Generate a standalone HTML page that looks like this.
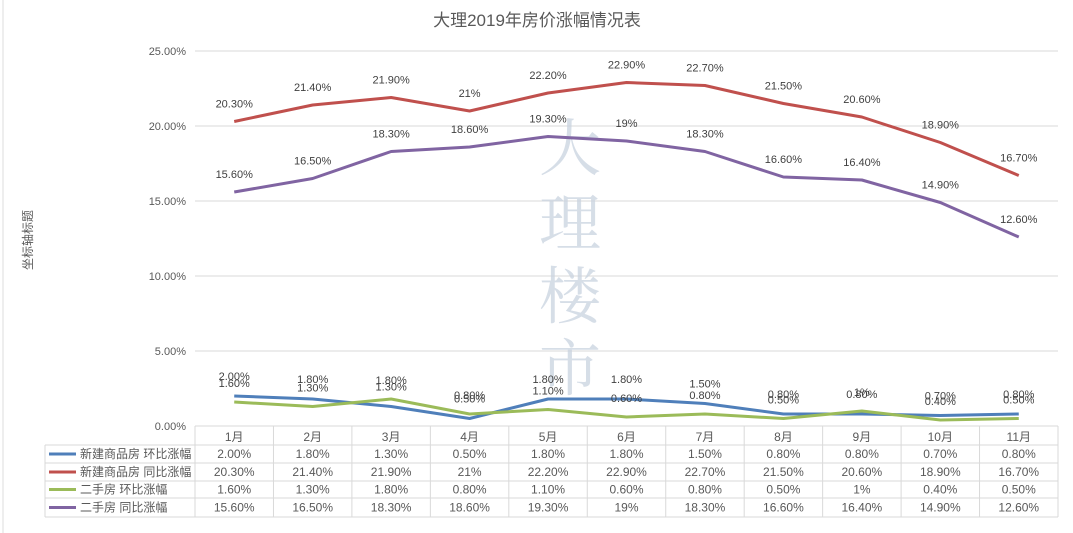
<!DOCTYPE html>
<html><head><meta charset="utf-8"><style>
body{margin:0;background:#fff;}
svg{display:block;font-family:"Liberation Sans","Noto Sans CJK SC",sans-serif;}
</style></head><body>
<svg id="s" width="1073" height="533" xmlns="http://www.w3.org/2000/svg">
<rect width="1073" height="533" fill="#fff"/>
<line x1="3" y1="0" x2="3" y2="533" stroke="#ddd"/>
<text x="537" y="26" font-size="17" text-anchor="middle" fill="#595959">大理2019年房价涨幅情况表</text>
<text transform="translate(32,240) rotate(-90)" font-size="12" text-anchor="middle" fill="#595959">坐标轴标题</text>
<g id="grid"></g>
<g font-size="62" fill="#c9d3e0" opacity="0.75" text-anchor="middle" font-family="'Noto Serif CJK SC','Noto Sans CJK SC',serif">
<text x="570" y="170">大</text><text x="570" y="245">理</text><text x="570" y="318">楼</text><text x="570" y="390">市</text>
</g>
<g id="lines"></g>
<g id="tbl" font-size="12" fill="#595959"></g>
</svg>
<script>
const NS="http://www.w3.org/2000/svg";
function el(p,t,a,txt){const e=document.createElementNS(NS,t);for(const k in a)e.setAttribute(k,a[k]);if(txt!=null)e.textContent=txt;p.appendChild(e);return e;}
const g=document.getElementById('grid'),L=document.getElementById('lines'),T=document.getElementById('tbl');
const x0=195,x1=1058,cw=(x1-x0)/11,Y=v=>426-15*v;
for(let i=0;i<=5;i++){const y=Y(i*5);el(g,'line',{x1:x0,x2:x1,y1:y,y2:y,stroke:'#d9d9d9'});
el(g,'text',{x:186,y:y+4,'font-size':11,'text-anchor':'end',fill:'#595959'},(i*5).toFixed(2)+'%');}
const S=[
{c:'#4f7fba',n:'新建商品房 环比涨幅',v:[2,1.8,1.3,0.5,1.8,1.8,1.5,0.8,0.8,0.7,0.8],l:['2.00%','1.80%','1.30%','0.50%','1.80%','1.80%','1.50%','0.80%','0.80%','0.70%','0.80%'],o:-16},
{c:'#c0504d',n:'新建商品房 同比涨幅',v:[20.3,21.4,21.9,21,22.2,22.9,22.7,21.5,20.6,18.9,16.7],l:['20.30%','21.40%','21.90%','21%','22.20%','22.90%','22.70%','21.50%','20.60%','18.90%','16.70%'],o:-14},
{c:'#9bbb59',n:'二手房 环比涨幅',v:[1.6,1.3,1.8,0.8,1.1,0.6,0.8,0.5,1,0.4,0.5],l:['1.60%','1.30%','1.80%','0.80%','1.10%','0.60%','0.80%','0.50%','1%','0.40%','0.50%'],o:-15},
{c:'#8064a2',n:'二手房 同比涨幅',v:[15.6,16.5,18.3,18.6,19.3,19,18.3,16.6,16.4,14.9,12.6],l:['15.60%','16.50%','18.30%','18.60%','19.30%','19%','18.30%','16.60%','16.40%','14.90%','12.60%'],o:-14}];
const cx=i=>x0+cw*(i+0.5);
S.forEach(s=>{el(L,'polyline',{points:s.v.map((v,i)=>cx(i)+','+Y(v)).join(' '),fill:'none',stroke:s.c,'stroke-width':3,'stroke-linejoin':'round'});
s.v.forEach((v,i)=>el(L,'text',{x:cx(i),y:Y(v)+s.o,'font-size':11,'text-anchor':'middle',fill:'#404040'},s.l[i]));});
// table
const rows=[426,445,463,481,498,517];
el(T,'line',{x1:x0,x2:x1,y1:426,y2:426,stroke:'#d9d9d9'});
for(let r=1;r<rows.length;r++)el(T,'line',{x1:45,x2:x1,y1:rows[r],y2:rows[r],stroke:'#d9d9d9'});
el(T,'line',{x1:45,x2:45,y1:445,y2:517,stroke:'#d9d9d9'});
for(let i=0;i<=11;i++)el(T,'line',{x1:x0+cw*i,x2:x0+cw*i,y1:426,y2:517,stroke:'#d9d9d9'});
for(let i=0;i<11;i++)el(T,'text',{x:cx(i),y:441,'text-anchor':'middle'},(i+1)+'月');
S.forEach((s,r)=>{const y=(rows[r+1]+rows[r+2])/2+4;
el(T,'line',{x1:49,x2:76,y1:y-4,y2:y-4,stroke:s.c,'stroke-width':3});
el(T,'text',{x:80,y:y},s.n);
s.l.forEach((t,i)=>el(T,'text',{x:cx(i),y:y,'text-anchor':'middle'},t));});
</script>
</body></html>
